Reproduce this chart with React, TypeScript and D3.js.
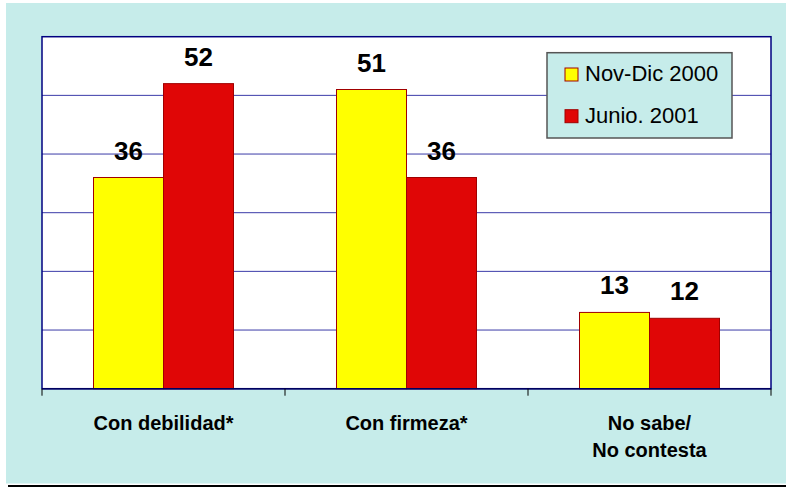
import React from "react";
import * as d3 from "d3";

const categories: string[][] = [["Con debilidad*"], ["Con firmeza*"], ["No sabe/", "No contesta"]];
const seriesNames = ["Nov-Dic 2000", "Junio. 2001"];
const novDic2000 = [36, 51, 13];
const junio2001 = [52, 36, 12];
const seriesColors = ["#ffff00", "#e00606"];
const yTicks = [0, 10, 20, 30, 40, 50, 60];

const W = 786;
const H = 487;
const plot = { left: 42, right: 771, top: 36.7, bottom: 388.7 };

export default function App() {
  const catKeys = categories.map((c) => c.join(" "));
  const x = d3
    .scaleBand<string>()
    .domain(catKeys)
    .range([plot.left, plot.right])
    .paddingInner(103 / 243)
    .paddingOuter(103 / 243 / 2);
  const xs = d3.scaleBand<string>().domain(seriesNames).range([0, x.bandwidth()]);
  const y = d3.scaleLinear().domain([0, 60]).range([plot.bottom, plot.top]);
  const data = [novDic2000, junio2001];
  const step = x.step();
  const boundaries = d3.range(catKeys.length + 1).map((i) => plot.left + i * step);

  return (
    <svg
      width={W}
      height={H}
      style={{ position: "absolute", left: 0, top: 0, display: "block" }}
      fontFamily="'Liberation Sans', Arial, sans-serif"
    >
      <rect x={0} y={0} width={W} height={H} fill="#ffffff" />
      <rect x={6} y={3} width={W - 6} height={480.5} fill="#c6ecea" />
      <rect x={8} y={485} width={W - 8} height={2} fill="#000000" />

      <rect
        x={plot.left}
        y={plot.top}
        width={plot.right - plot.left}
        height={plot.bottom - plot.top}
        fill="#ffffff"
      />
      {yTicks.slice(1, -1).map((t) => (
        <line key={t} x1={plot.left} x2={plot.right} y1={y(t)} y2={y(t)} stroke="#3a3aa8" strokeWidth={1} />
      ))}
      <rect
        x={plot.left}
        y={plot.top}
        width={plot.right - plot.left}
        height={plot.bottom - plot.top}
        fill="none"
        stroke="#000080"
        strokeWidth={1.5}
      />

      {catKeys.map((c, ci) =>
        seriesNames.map((s, si) => {
          const v = data[si][ci];
          const bx = (x(c) as number) + (xs(s) as number);
          return (
            <g key={c + s}>
              <rect
                x={bx}
                y={y(v)}
                width={xs.bandwidth()}
                height={y(0) - y(v)}
                fill={seriesColors[si]}
                stroke="#a00000"
                strokeWidth={1}
              />
              <text
                x={bx + xs.bandwidth() / 2}
                y={y(v) - 18}
                textAnchor="middle"
                fontSize={26}
                fontWeight="bold"
                fill="#000"
              >
                {v}
              </text>
            </g>
          );
        })
      )}

      <line x1={plot.left} x2={plot.right} y1={plot.bottom} y2={plot.bottom} stroke="#000060" strokeWidth={1.5} />
      {boundaries.map((bx, i) => (
        <line key={i} x1={bx} x2={bx} y1={plot.bottom} y2={plot.bottom + 7} stroke="#000" strokeWidth={1} />
      ))}

      {categories.map((lines, ci) => (
        <text
          key={ci}
          x={(x(catKeys[ci]) as number) + x.bandwidth() / 2}
          y={430}
          textAnchor="middle"
          fontSize={20}
          fontWeight="bold"
          fill="#000"
        >
          {lines.map((l, li) => (
            <tspan key={li} x={(x(catKeys[ci]) as number) + x.bandwidth() / 2} dy={li === 0 ? 0 : 27}>
              {l}
            </tspan>
          ))}
        </text>
      ))}

      <g>
        <rect x={547} y={52.7} width={185} height={85.3} fill="#c6ecea" stroke="#555" strokeWidth={1.5} />
        {seriesNames.map((s, si) => (
          <g key={s}>
            <rect
              x={565}
              y={68 + si * 41.7}
              width={13}
              height={13}
              fill={seriesColors[si]}
              stroke="#a00000"
              strokeWidth={1}
            />
            <text x={585} y={81 + si * 41.7} fontSize={22} fill="#000">
              {s}
            </text>
          </g>
        ))}
      </g>
    </svg>
  );
}
